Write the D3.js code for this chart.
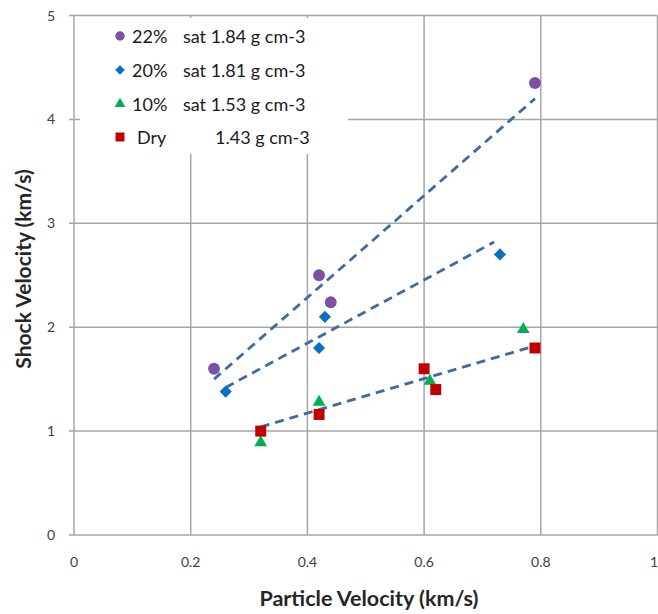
<!DOCTYPE html>
<html><head><meta charset="utf-8">
<script src="https://cdn.jsdelivr.net/npm/d3@7"></script>
<style>body{margin:0;background:#fff}svg{display:block;font-family:Lato,"Open Sans",sans-serif}</style>
</head><body><svg id="c" width="658" height="614"></svg>
<script>
const xTicks = [0, 0.2, 0.4, 0.6, 0.8, 1];
const yTicks = [0, 1, 2, 3, 4, 5];
const seriesNames = ["22%", "20%", "10%", "Dry"];
const seriesDesc = ["sat 1.84 g cm-3", "sat 1.81 g cm-3", "sat 1.53 g cm-3", "1.43 g cm-3"];
const seriesColors = ["#7b52a3", "#0a70c0", "#00b050", "#c00000"];
const seriesShapes = ["circle", "diamond", "triangle", "square"];
const sat22 = [[0.24, 1.60], [0.42, 2.50], [0.44, 2.24], [0.79, 4.35]];
const sat20 = [[0.26, 1.38], [0.42, 1.80], [0.43, 2.10], [0.73, 2.70]];
const sat10 = [[0.32, 0.90], [0.42, 1.29], [0.61, 1.49], [0.77, 1.99]];
const dry   = [[0.32, 1.00], [0.42, 1.16], [0.60, 1.60], [0.62, 1.40], [0.79, 1.80]];
const trend22 = [[0.24, 1.50], [0.79, 4.20]];
const trend20 = [[0.26, 1.42], [0.72, 2.82]];
const trendDry = [[0.32, 1.04], [0.79, 1.82]];

const series = [sat22, sat20, sat10, dry];
const trends = [trend22, trend20, trendDry];

const svg = d3.select("#c");
const x = d3.scaleLinear().domain([0, 1]).range([74, 657.5]);
const y = d3.scaleLinear().domain([0, 5]).range([535, 15.5]);

// gridlines
const g = svg.append("g");
g.selectAll(".vg").data(xTicks).enter().append("line")
  .attr("x1", d => x(d)).attr("x2", d => x(d)).attr("y1", y(0)).attr("y2", y(5))
  .attr("stroke", "#a6a6a6").attr("stroke-width", 1.5);
g.selectAll(".hg").data(yTicks).enter().append("line")
  .attr("x1", x(0) - 5).attr("x2", x(1)).attr("y1", d => y(d)).attr("y2", d => y(d))
  .attr("stroke", "#a6a6a6").attr("stroke-width", 1.5);

// tick labels
svg.selectAll(".xl").data(xTicks).enter().append("text")
  .attr("x", d => d === 1 ? 658 : x(d)).attr("y", 567)
  .attr("text-anchor", d => d === 1 ? "end" : "middle")
  .attr("font-size", 14).attr("fill", "#404040").text(d => d3.format("")(d));
svg.selectAll(".yl").data(yTicks).enter().append("text")
  .attr("x", 55).attr("y", d => y(d) + 5).attr("text-anchor", "end")
  .attr("font-size", 14).attr("fill", "#404040").text(d => d);

// axis titles
svg.append("text").attr("x", 369).attr("y", 606).attr("text-anchor", "middle")
  .attr("font-size", 21.5).attr("font-weight", "bold").attr("fill", "#262626")
  .text("Particle Velocity (km/s)");
svg.append("text").attr("transform", "translate(31,269) rotate(-90)").attr("text-anchor", "middle")
  .attr("font-size", 21).attr("font-weight", "bold").attr("fill", "#262626")
  .text("Shock Velocity (km/s)");

// legend background
svg.append("rect").attr("x", 80).attr("y", 18).attr("width", 268).attr("height", 136).attr("fill", "#fff");

// trendlines
const line = d3.line().x(d => x(d[0])).y(d => y(d[1]));
svg.selectAll(".tr").data(trends).enter().append("path")
  .attr("d", line).attr("fill", "none").attr("stroke", "#3f6aa6")
  .attr("stroke-width", 2.8).attr("stroke-dasharray", "9,6");

function sym(shape) {
  if (shape === "circle") return d3.symbol(d3.symbolCircle, 110)();
  if (shape === "diamond") return d3.symbol(d3.symbolDiamond2, 95)();
  if (shape === "triangle") return d3.symbol(d3.symbolTriangle, 70)();
  return d3.symbol(d3.symbolSquare, 120)();
}

series.forEach((s, i) => {
  svg.selectAll(".p" + i).data(s).enter().append("path")
    .attr("d", sym(seriesShapes[i]))
    .attr("transform", d => `translate(${x(d[0])},${y(d[1]) + (seriesShapes[i] === "triangle" ? 1 : 0)})`)
    .attr("fill", seriesColors[i]);
});

// legend
const rowsY = [36, 70, 104, 137];
const legSize = { circle: 70, diamond: 60, triangle: 50, square: 80 };
seriesNames.forEach((n, i) => {
  const sh = seriesShapes[i];
  const t = { circle: d3.symbolCircle, diamond: d3.symbolDiamond2, triangle: d3.symbolTriangle, square: d3.symbolSquare }[sh];
  svg.append("path").attr("d", d3.symbol(t, legSize[sh])())
    .attr("transform", `translate(120,${rowsY[i]})`).attr("fill", seriesColors[i]);
  svg.append("text").attr("x", i === 3 ? 137 : 132).attr("y", rowsY[i] + 6.5)
    .attr("font-size", 18).attr("fill", "#1a1a1a").text(n);
  svg.append("text").attr("x", i === 3 ? 215 : 183).attr("y", rowsY[i] + 6.5)
    .attr("font-size", 18).attr("fill", "#1a1a1a").text(seriesDesc[i]);
});
</script></body></html>
